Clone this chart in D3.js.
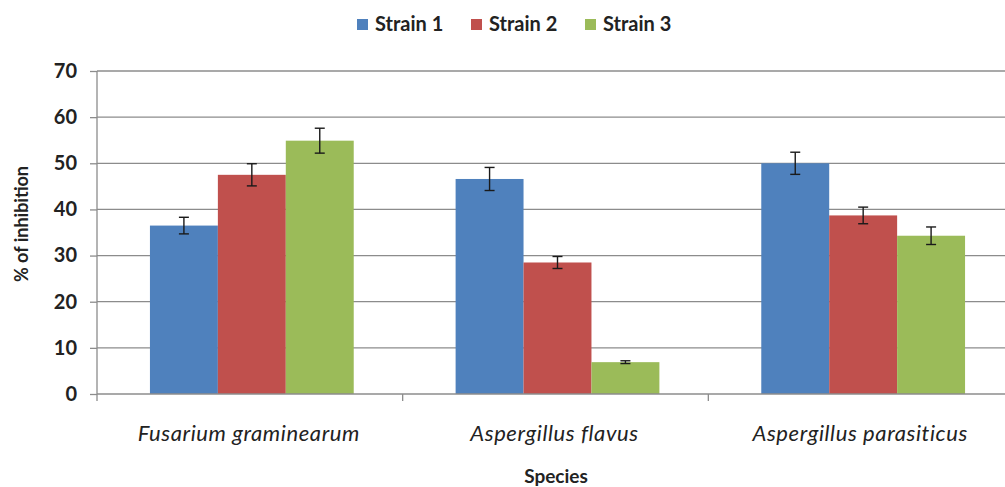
<!DOCTYPE html>
<html><head><meta charset="utf-8">
<script src="https://cdn.jsdelivr.net/npm/d3@7"></script>
<style>body{margin:0;background:#fff}svg{display:block}</style>
</head><body>
<script>
const categories = ["Fusarium graminearum", "Aspergillus flavus", "Aspergillus parasiticus"];
const seriesNames = ["Strain 1", "Strain 2", "Strain 3"];
const strain1 = [36.5, 46.6, 50.0];
const strain2 = [47.5, 28.5, 38.7];
const strain3 = [54.9, 6.9, 34.3];
const err1 = [1.8, 2.5, 2.4];
const err2 = [2.4, 1.3, 1.8];
const err3 = [2.7, 0.3, 1.9];
const yTicks = [0, 10, 20, 30, 40, 50, 60, 70];
const colors = ["#4F81BD", "#C0504D", "#9BBB59"];

const W = 1005, H = 487;
const m = {left: 97, right: -9, top: 71, bottom: 93};
const svg = d3.select("body").append("svg").attr("width", W).attr("height", H);
const x0 = d3.scaleBand().domain(categories).range([m.left, W - m.right]).paddingInner(0).paddingOuter(0);
const x1 = d3.scaleBand().domain(seriesNames).range([2, x0.bandwidth() + 2]).paddingInner(0).paddingOuter(0.75);
const y = d3.scaleLinear().domain([0, 70]).range([H - m.bottom, m.top]);

const font = "Lato, 'Open Sans', 'Liberation Sans', sans-serif";
// gridlines
svg.append("g").selectAll("line").data(yTicks.filter(d => d > 0)).join("line")
  .attr("x1", m.left).attr("x2", W).attr("y1", d => y(d)).attr("y2", d => y(d))
  .attr("stroke", "#8c8c8c").attr("stroke-width", 1.3);

const series = [strain1, strain2, strain3];
const errs = [err1, err2, err3];
const data = [];
categories.forEach((c, i) => seriesNames.forEach((s, j) => data.push({c, s, v: series[j][i], e: errs[j][i], j})));

svg.append("g").selectAll("rect").data(data).join("rect")
  .attr("x", d => x0(d.c) + x1(d.s)).attr("width", x1.bandwidth())
  .attr("y", d => y(d.v)).attr("height", d => y(0) - y(d.v))
  .attr("fill", d => colors[d.j]);

// error bars
const eg = svg.append("g").attr("stroke", "#1a1a1a").attr("stroke-width", 1.4);
data.forEach(d => {
  const cx = x0(d.c) + x1(d.s) + x1.bandwidth() / 2;
  eg.append("line").attr("x1", cx).attr("x2", cx).attr("y1", y(d.v + d.e)).attr("y2", y(d.v - d.e));
  [d.v + d.e, d.v - d.e].forEach(v => eg.append("line").attr("x1", cx - 5).attr("x2", cx + 5).attr("y1", y(v)).attr("y2", y(v)));
});

// y axis
const yAxis = svg.append("g").attr("transform", `translate(${m.left},0)`)
  .call(d3.axisLeft(y).tickValues(yTicks).tickSize(7).tickPadding(13));
yAxis.select(".domain").attr("stroke", "#8c8c8c").attr("stroke-width", 1.3).attr("d", `M-0,${y(70)}V${y(0)}`);
yAxis.selectAll(".tick line").attr("stroke", "#8c8c8c").attr("stroke-width", 1.3);
yAxis.selectAll("text").attr("font-family", font).attr("font-weight", "bold").attr("font-size", 20).attr("fill", "#222");

// x axis
const xg = svg.append("g").attr("transform", `translate(0,${y(0)})`);
xg.append("line").attr("x1", m.left).attr("x2", W).attr("stroke", "#8c8c8c").attr("stroke-width", 1.3);
xg.selectAll(".tk").data(categories).join("line").attr("class", "tk")
  .attr("x1", d => x0(d)).attr("x2", d => x0(d)).attr("y1", 0).attr("y2", 7)
  .attr("stroke", "#8c8c8c").attr("stroke-width", 1.3);
xg.selectAll("text").data(categories).join("text")
  .attr("x", d => x0(d) + x0.bandwidth() / 2 - 1).attr("y", 47)
  .attr("text-anchor", "middle").attr("font-family", font).attr("font-style", "italic")
  .attr("font-size", 22).attr("letter-spacing", 0.6).attr("fill", "#222").text(d => d);

// axis titles
svg.append("text").attr("x", 556).attr("y", 483).attr("text-anchor", "middle")
  .attr("font-family", font).attr("font-weight", "bold").attr("font-size", 19).attr("fill", "#222").text("Species");
svg.append("text").attr("transform", "translate(28,224) rotate(-90)").attr("text-anchor", "middle")
  .attr("font-family", font).attr("font-weight", "bold").attr("font-size", 18).attr("fill", "#222").text("% of inhibition");

// legend
const lx = [357, 471, 585];
const lg = svg.append("g");
seriesNames.forEach((s, i) => {
  lg.append("rect").attr("x", lx[i]).attr("y", 19).attr("width", 11).attr("height", 11).attr("fill", colors[i]);
  lg.append("text").attr("x", lx[i] + 18).attr("y", 31).attr("font-family", font).attr("font-weight", "bold")
    .attr("font-size", 20).attr("fill", "#222").text(s);
});
</script>
</body></html>
